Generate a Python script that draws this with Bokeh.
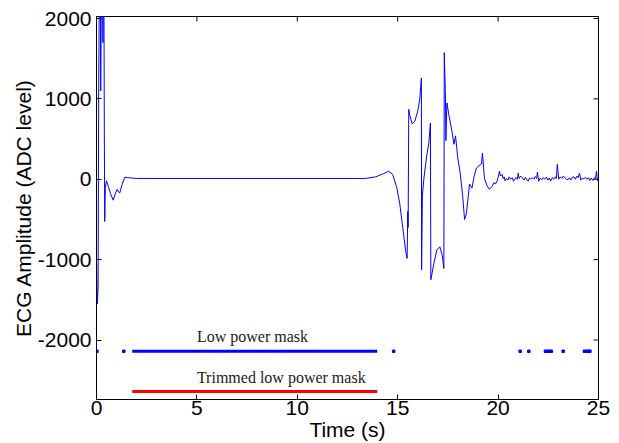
import math
from bokeh.plotting import figure
from bokeh.models import Range1d, FixedTicker
from bokeh.core.properties import value
from bokeh.embed import file_html
from bokeh.resources import INLINE

# ---- data ----
ecg_t = [0.00, 0.04, 0.08, 0.11, 0.14, 0.19, 0.21, 0.24, 0.30, 0.32, 0.34, 0.37, 0.39, 0.41,
         0.44, 0.50, 0.60, 0.70, 0.83, 0.95, 1.03, 1.10, 1.16, 1.28, 1.41, 1.55, 2.0, 13.4,
         13.9, 14.3, 14.55, 14.75, 14.95, 15.1, 15.25, 15.4, 15.47, 15.5, 15.52, 15.55, 15.6,
         15.72, 15.85, 16.0, 16.1, 16.18, 16.19, 16.23, 16.3, 16.45, 16.55, 16.63, 16.65, 16.8,
         16.95, 17.1, 17.22, 17.3, 17.32, 17.36, 17.38, 17.4, 17.45, 17.55, 17.7, 17.8, 17.88,
         18.0, 18.1, 18.23, 18.33, 18.42, 18.58, 18.7, 18.8, 18.92, 19.05, 19.17, 19.22, 19.32,
         19.45, 19.57, 19.7, 19.8, 19.87, 19.95, 20.0, 20.07, 20.12, 20.2, 20.25, 20.3, 20.35,
         20.42, 20.5, 20.55, 20.62, 20.7, 20.77, 20.85, 20.9, 20.96, 21.0, 21.05, 21.12, 21.2,
         21.3, 21.36, 21.42, 21.5, 21.56, 21.62, 21.7, 21.78, 21.85, 21.92, 21.96, 22.02, 22.1,
         22.18, 22.25, 22.32, 22.4, 22.48, 22.55, 22.62, 22.7, 22.78, 22.85, 22.9, 22.95, 23.02,
         23.1, 23.18, 23.25, 23.32, 23.4, 23.48, 23.55, 23.62, 23.7, 23.78, 23.85, 23.92, 23.99,
         24.05, 24.12, 24.2, 24.27, 24.34, 24.42, 24.5, 24.57, 24.64, 24.72, 24.8, 24.85, 24.9,
         24.95, 25.0]
ecg_v = [-1000, -1550, -1350, 1200, 2300, 2300, 1100, 2300, 2300, 1700, 2300, 2300, 575, -525,
         -100, -20, -100, -180, -260, -170, -125, -160, -170, -60, 25, 20, 10, 10,
         30, 70, 100, 60, -100, -300, -600, -900, -985, -400, -600, 870, 800,
         690, 720, 850, 1000, 1260, -1125, -200, 0, 300, 450, 700, -1250, -1050,
         -880, -840, -950, -1110, 1575, 1200, 1000, 480, 950, 800, 600, 435, 540,
         250, 100, -190, -500, -430, -60, -110, 30, 140, 170, 190, 325, 10,
         -80, -125, -90, -40, -60, -20, 20, 100, 40, 60, 10, 30, -20,
         10, -10, 30, 0, 20, -25, 10, 20, 0, 75, 10, 40, 20,
         -10, 25, 0, -25, 15, 5, 20, 0, 35, 10, 90, -25, 15,
         -5, 20, 0, 25, -10, 15, -20, 20, 0, 30, 10, 185, 0, 30,
         10, 40, 20, 0, -5, 20, -10, 25, 30, 0, 40, 20, 75,
         -10, 15, 5, 25, 0, 20, -15, 15, -15, 20, 10, 100, -20,
         10, -40]

mask_start = [1.78]
mask_end = [13.98]
mask_level = [-2140]
trim_level = [-2640]
mask_dot_t = [0.02, 1.36, 14.8, 21.1, 21.53, 22.36, 22.45, 22.55, 22.65, 23.24, 24.3, 24.4, 24.5, 24.57]

label_x = [5.0, 5.0]
label_y = [-1950, -2462]
label_text = ["Low power mask", "Trimmed low power mask"]

X_MIN, X_MAX = 0, 25
Y_MIN, Y_MAX = -2740, 2025
x_ticks = [0, 5, 10, 15, 20, 25]
y_ticks = [-2000, -1000, 0, 1000, 2000]
y_tick_labels = ["-2000", "-1000", "0", "1000", "2000"]
x_title = "Time (s)"
y_title = "ECG Amplitude (ADC level)"

SANS = "Liberation Sans"
SERIF = "Liberation Serif"

p = figure(width=619, height=443, output_backend="svg", toolbar_location=None,
           x_range=Range1d(X_MIN, X_MAX), y_range=Range1d(Y_MIN, Y_MAX),
           min_border_left=96, min_border_right=21, min_border_top=16, min_border_bottom=44)
p.background_fill_color = "white"
p.border_fill_color = "white"
p.outline_line_color = "black"
p.outline_line_width = 1
p.grid.visible = False

p.line(ecg_t, ecg_v, line_color="#0000ff", line_width=1)

p.segment(x0=mask_start, y0=mask_level, x1=mask_end, y1=mask_level,
          line_color="#0000ff", line_width=3)
p.segment(x0=mask_start, y0=trim_level, x1=mask_end, y1=trim_level,
          line_color="#ff0000", line_width=3)
p.scatter(mask_dot_t, [mask_level[0]] * len(mask_dot_t), marker="square", size=2.5,
          fill_color="#0000ff", line_color="#0000ff")

p.text(x=label_x, y=label_y, text=label_text, text_font=value(SERIF), text_font_size="16px",
       text_align="left", text_baseline="middle", text_color="#1a1a1a")

# inward tick marks on the top and right edges of the box (clipped to the frame)
p.scatter(x_ticks, [Y_MAX] * len(x_ticks), marker="dash", angle=math.pi / 2, size=10,
          line_color="black", line_width=1)
p.scatter([X_MAX] * len(y_ticks), y_ticks, marker="dash", size=10,
          line_color="black", line_width=1)

for ax in (p.xaxis[0], p.yaxis[0]):
    ax.major_tick_in = 5
    ax.major_tick_out = 0
    ax.minor_tick_in = 0
    ax.minor_tick_out = 0
    ax.axis_line_color = "black"
    ax.major_tick_line_color = "black"
    ax.major_label_text_font = SANS
    ax.major_label_text_font_size = "21px"
    ax.major_label_text_color = "black"
    ax.axis_label_text_font = SANS
    ax.axis_label_text_font_size = "21px"
    ax.axis_label_text_font_style = "normal"
    ax.axis_label_text_color = "black"

p.xaxis[0].ticker = FixedTicker(ticks=x_ticks)
p.xaxis[0].axis_label = x_title
p.xaxis[0].major_label_standoff = 1
p.xaxis[0].axis_label_standoff = 0

p.yaxis[0].ticker = FixedTicker(ticks=y_ticks)
p.yaxis[0].major_label_overrides = {t: s for t, s in zip(y_ticks, y_tick_labels)}
p.yaxis[0].axis_label = y_title
p.yaxis[0].major_label_standoff = 5
p.yaxis[0].axis_label_standoff = 0

open("out.html", "w").write(file_html(p, INLINE))
